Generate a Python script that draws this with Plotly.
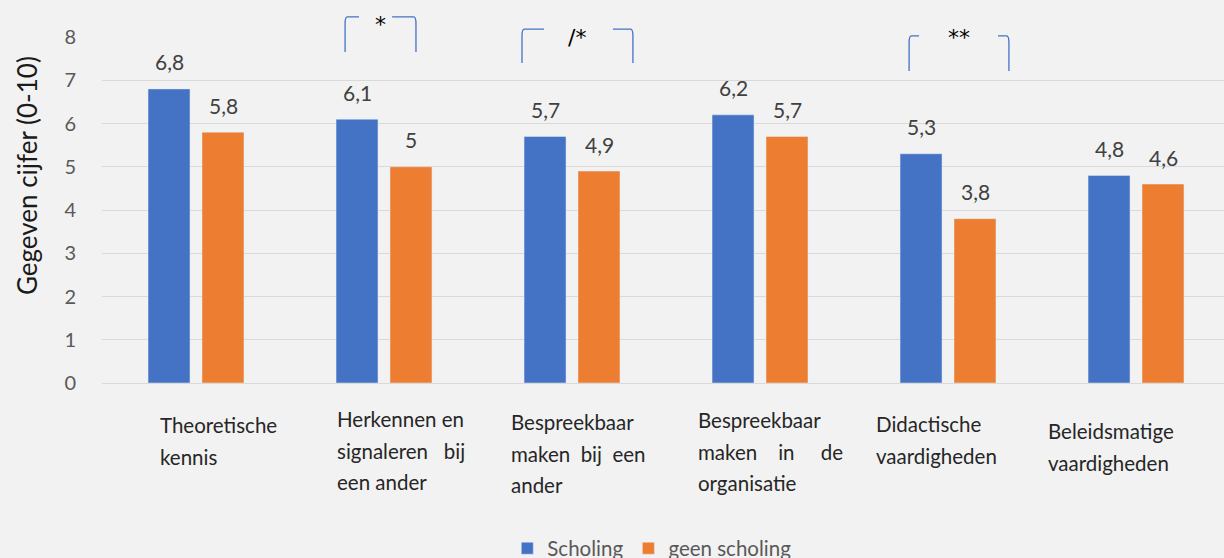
import plotly.graph_objects as go

categories = [
    "Theoretische\nkennis",
    "Herkennen en\nsignaleren\u00a0\u00a0 bij\neen ander",
    "Bespreekbaar\nmaken\u00a0 bij\u00a0 een\nander",
    "Bespreekbaar\nmaken\u00a0\u00a0\u00a0 in\u00a0\u00a0\u00a0\u00a0 de\norganisatie",
    "Didactische\nvaardigheden",
    "Beleidsmatige\nvaardigheden",
]
scholing = [6.8, 6.1, 5.7, 6.2, 5.3, 4.8]
geen_scholing = [5.8, 5.0, 4.9, 5.7, 3.8, 4.6]
y_ticks = [0, 1, 2, 3, 4, 5, 6, 7, 8]

# significance markers: (left category edge, right category edge, label)
sig_marks = [(0.793, 1.170, "*"), (1.734, 2.324, "/*"), (3.793, 4.324, "**")]

FONT = "Lato, 'Open Sans', sans-serif"
BLUE = "#4472C4"
ORANGE = "#ED7D31"

def fmt(v):
    s = f"{v:.1f}".replace(".", ",")
    return s[:-2] if s.endswith(",0") else s

x_idx = list(range(len(categories)))

fig = go.Figure()
fig.add_trace(go.Bar(x=x_idx, y=scholing, name="Scholing", marker_color=BLUE))
fig.add_trace(go.Bar(x=x_idx, y=geen_scholing, name="geen scholing", marker_color=ORANGE))

annotations = []
bar_off = 0.1436
for i, (a, b) in enumerate(zip(scholing, geen_scholing)):
    for v, off in ((a, -bar_off), (b, bar_off)):
        annotations.append(dict(x=i + off, y=v, xref="x", yref="y", text=fmt(v),
                                showarrow=False, yanchor="middle", yshift=27,
                                font=dict(family=FONT, size=21, color="#404040")))

# category labels (left aligned text blocks)
label_shift = [-38, -49, -63, -64, -74, -90]
label_top = [410, 404, 407, 405, 409, 416]
plot_bottom = 383
plot_h = 346
for i, cat in enumerate(categories):
    for j, line in enumerate(cat.split("\n")):
        cy = label_top[i] + 15 + 31.5 * j
        annotations.append(dict(x=i, xref="x", y=(plot_bottom - cy) / plot_h, yref="paper",
                                text=line, showarrow=False, xanchor="left", yanchor="middle",
                                xshift=label_shift[i],
                                font=dict(family=FONT, size=20.5, color="#262626")))

# axis title
annotations.append(dict(x=(27 - 102) / 1122.0, xref="paper", y=0.598, yref="paper",
                        text="Gegeven cijfer (0-10)", showarrow=False, textangle=-90,
                        xanchor="center", yanchor="middle",
                        font=dict(family=FONT, size=26, color="#1a1a1a")))

shapes = []
sig_top = [1.058, 1.023, 1.003]
sig_bot = [0.957, 0.925, 0.902]
sig_inner = [(0.867, 1.043), (1.851, 2.218), (3.846, 4.266)]
sig_text_y = [1.035, 1.0, 1.0]
for k, (l, r, lab) in enumerate(sig_marks):
    t, bt = sig_top[k], sig_bot[k]
    il, ir = sig_inner[k]
    d = 0.012
    shapes.append(dict(type="path", xref="x", yref="paper",
                       path=f"M {l},{bt} L {l},{t-0.02} Q {l},{t} {l+d},{t} L {il},{t}",
                       line=dict(color=BLUE, width=1.3)))
    shapes.append(dict(type="path", xref="x", yref="paper",
                       path=f"M {ir},{t} L {r-d},{t} Q {r},{t} {r},{t-0.02} L {r},{bt}",
                       line=dict(color=BLUE, width=1.3)))
    annotations.append(dict(x=(l + r) / 2 + 0.0, xref="x", y=sig_text_y[k], yref="paper",
                            text=lab, showarrow=False, yanchor="middle",
                            font=dict(family="DejaVu Sans", size=22, color="#000000")))

fig.update_layout(
    width=1224, height=558,
    margin=dict(l=102, r=0, t=37, b=175, autoexpand=False),
    paper_bgcolor="#F2F2F2", plot_bgcolor="#F2F2F2",
    barmode="group", bargap=0.426, bargroupgap=0.222,
    showlegend=True,
    legend=dict(orientation="h", x=0.49, xanchor="center", y=-0.478, yanchor="middle",
                font=dict(family=FONT, size=20.5, color="#595959"),
                bgcolor="rgba(0,0,0,0)", itemclick=False),
    xaxis=dict(range=[-0.5, 5.468], showticklabels=False, showgrid=False,
               zeroline=False, showline=False, ticks=""),
    yaxis=dict(range=[0, 8], tickvals=y_ticks, ticktext=[str(t) for t in y_ticks],
               showgrid=True, gridcolor="#D9D9D9", gridwidth=1,
               zeroline=True, zerolinecolor="#D9D9D9", zerolinewidth=1,
               ticks="", ticklabelstandoff=25,
               tickfont=dict(family=FONT, size=20, color="#595959")),
    annotations=annotations,
    shapes=shapes,
    font=dict(family=FONT),
)

fig.write_html("out.html", config={"displayModeBar": False},
               post_script="document.body.style.margin='0';document.body.style.overflow='hidden';")
